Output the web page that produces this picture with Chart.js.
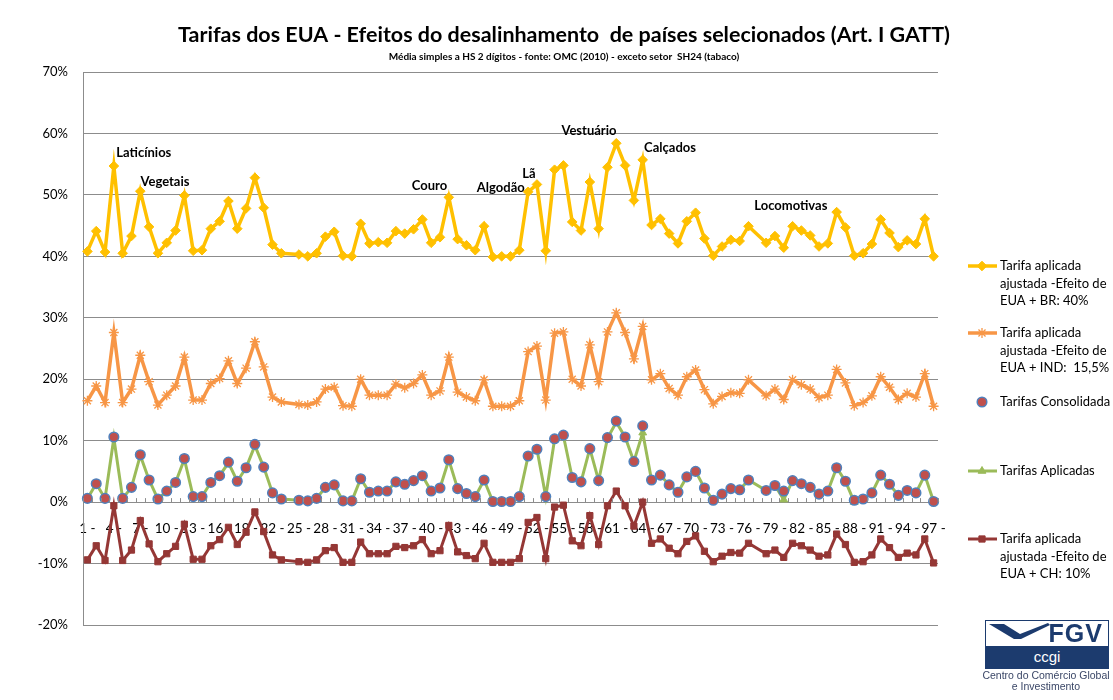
<!DOCTYPE html>
<html lang="pt-BR">
<head>
<meta charset="utf-8">
<title>Tarifas dos EUA - Efeitos do desalinhamento</title>
<script src="https://cdn.jsdelivr.net/npm/chart.js@4.4.1/dist/chart.umd.min.js"></script>
<style>
  html, body { margin: 0; padding: 0; background: #fff; }
  #wrap { position: relative; width: 1113px; height: 700px; overflow: hidden; }
  #chart { position: absolute; left: 0; top: 0; }
  #logo { position: absolute; left: 985px; top: 620px; width: 122px; height: 47px; border: 1px solid #1c3b6e; background: #fff; }
  #logo .topo { position: relative; height: 25px; }
  #logo .topo span { position: absolute; right: 5px; top: -2px; font: bold 25px "Liberation Sans", Arial, sans-serif; color: #1c3b6e; letter-spacing: 1px; }
  #logo .faixa { height: 22px; background: #1c3b6e; color: #fff; text-align: center; font: 15px "Liberation Sans", Arial, sans-serif; line-height: 21px; }
  #logoTxt { position: absolute; left: 975px; top: 670px; width: 142px; text-align: center; font: 10.5px "Liberation Sans", Arial, sans-serif; line-height: 10.5px; color: #3b4767; }
</style>
</head>
<body>
<div id="wrap">
  <canvas id="chart" width="1113" height="700"></canvas>
  <div id="logo">
    <div class="topo">
      <svg width="70" height="25" style="position:absolute;left:0;top:0">
        <polygon points="3,3 18,3 34,13 62,2 64,4 35,18 28,18" fill="#1c3b6e"/>
      </svg>
      <span>FGV</span>
    </div>
    <div class="faixa">ccgi</div>
  </div>
  <div id="logoTxt">Centro do Comércio Global<br>e Investimento</div>
</div>
<script>
// capitulos SH 2 digitos (24 = tabaco excluido, 77 inexistente)
const capitulos = [1, 2, 3, 4, 5, 6, 7, 8, 9, 10, 11, 12, 13, 14, 15, 16, 17, 18, 19, 20,
  21, 22, 23, 24, 25, 26, 27, 28, 29, 30, 31, 32, 33, 34, 35, 36, 37, 38, 39, 40,
  41, 42, 43, 44, 45, 46, 47, 48, 49, 50, 51, 52, 53, 54, 55, 56, 57, 58, 59, 60,
  61, 62, 63, 64, 65, 66, 67, 68, 69, 70, 71, 72, 73, 74, 75, 76, 77, 78, 79, 80,
  81, 82, 83, 84, 85, 86, 87, 88, 89, 90, 91, 92, 93, 94, 95, 96, 97];

const tarifaBR = [40.8, 44.1, 40.7, 54.7, 40.5, 43.3, 50.6, 44.8, 40.5, 42.2,
  44.2, 49.9, 40.9, 41.0, 44.5, 45.7, 49.0, 44.5, 47.8, 52.8,
  47.9, 41.9, 40.5, null, 40.3, 40.0, 40.5, 43.2, 44.0, 40.1,
  40.0, 45.3, 42.1, 42.3, 42.2, 44.1, 43.7, 44.4, 46.0, 42.2,
  43.1, 49.6, 42.8, 41.8, 41.0, 44.9, 39.9, 40.0, 40.0, 41.0,
  50.5, 51.7, 40.9, 54.1, 54.8, 45.6, 44.2, 52.1, 44.5, 54.5,
  58.4, 54.8, 49.1, 55.7, 45.1, 46.1, 43.7, 42.1, 45.7, 47.1,
  42.9, 40.1, 41.6, 42.7, 42.5, 44.9, null, 42.2, 43.3, 41.4,
  44.9, 44.2, 43.4, 41.6, 42.1, 47.2, 44.7, 40.1, 40.5, 42.0,
  46.0, 43.8, 41.5, 42.6, 42.0, 46.1, 40.0];

const tarifaIND = [16.5, 18.9, 16.2, 27.6, 16.2, 18.4, 23.9, 19.6, 15.8, 17.4,
  18.9, 23.6, 16.6, 16.6, 19.3, 20.1, 23.0, 19.3, 21.8, 26.1,
  22.0, 17.1, 16.3, null, 15.9, 15.8, 16.3, 18.4, 18.7, 15.7,
  15.6, 20.0, 17.4, 17.4, 17.4, 19.2, 18.6, 19.3, 20.7, 17.4,
  18.1, 23.6, 17.9, 17.1, 16.5, 19.9, 15.6, 15.6, 15.6, 16.5,
  24.5, 25.4, 16.6, 27.5, 27.7, 20.0, 18.9, 25.6, 19.6, 27.7,
  30.8, 27.6, 23.3, 28.6, 19.9, 20.9, 18.5, 17.4, 20.4, 21.5,
  18.3, 16.0, 17.2, 17.8, 17.7, 19.9, null, 17.3, 18.4, 16.7,
  19.9, 19.1, 18.4, 17.0, 17.4, 21.6, 19.4, 15.7, 16.2, 17.3,
  20.4, 18.7, 16.7, 17.7, 17.1, 20.9, 15.6];

const consolidadas = [0.6, 3.0, 0.6, 10.6, 0.6, 2.4, 7.7, 3.6, 0.5, 1.8,
  3.2, 7.1, 0.9, 0.9, 3.2, 4.3, 6.5, 3.4, 5.6, 9.4,
  5.7, 1.5, 0.5, null, 0.3, 0.2, 0.6, 2.4, 2.8, 0.2,
  0.2, 3.8, 1.6, 1.8, 1.8, 3.3, 2.9, 3.5, 4.3, 1.8,
  2.3, 6.9, 2.2, 1.4, 0.9, 3.6, 0.1, 0.1, 0.1, 0.9,
  7.5, 8.6, 0.9, 10.3, 10.9, 4.0, 3.3, 8.7, 3.5, 10.5,
  13.2, 10.6, 6.6, 12.4, 3.6, 4.4, 2.8, 1.6, 4.1, 5.0,
  2.3, 0.3, 1.3, 2.2, 2.0, 3.6, null, 1.9, 2.7, 1.8,
  3.5, 3.0, 2.4, 1.3, 1.8, 5.6, 3.4, 0.3, 0.5, 1.5,
  4.4, 2.9, 1.1, 1.9, 1.5, 4.4, 0.1];

const aplicadas = [0.6, 3.0, 0.6, 10.4, 0.6, 2.4, 7.6, 3.6, 0.5, 1.8,
  3.2, 7.0, 0.9, 0.9, 3.2, 4.3, 6.4, 3.4, 5.6, 9.2,
  5.7, 1.5, 0.5, null, 0.3, 0.2, 0.6, 2.4, 2.8, 0.2,
  0.2, 3.8, 1.6, 1.8, 1.8, 3.3, 2.9, 3.5, 4.3, 1.8,
  2.3, 6.9, 2.2, 1.4, 0.9, 3.6, 0.1, 0.1, 0.1, 0.9,
  7.5, 8.6, 0.9, 10.2, 10.8, 4.0, 3.3, 8.7, 3.5, 10.4,
  13.0, 10.6, 6.6, 11.3, 3.6, 4.4, 2.8, 1.6, 4.1, 5.0,
  2.3, 0.3, 1.3, 2.2, 2.0, 3.6, null, 1.9, 2.7, 0.4,
  3.5, 3.0, 2.4, 1.3, 1.8, 5.6, 3.4, 0.0, 0.5, 1.5,
  4.4, 2.9, 1.1, 1.9, 1.5, 4.4, 0.1];

const tarifaCH = [-9.4, -7.1, -9.5, -0.6, -9.5, -7.8, -3.0, -6.8, -9.7, -8.4,
  -7.2, -3.6, -9.3, -9.3, -7.1, -6.1, -4.1, -6.9, -4.9, -1.6,
  -4.8, -8.6, -9.4, null, -9.7, -9.8, -9.4, -7.9, -7.4, -9.8,
  -9.8, -6.5, -8.4, -8.4, -8.4, -7.2, -7.4, -7.1, -6.1, -8.4,
  -7.9, -3.8, -8.1, -8.7, -9.2, -6.7, -9.8, -9.8, -9.8, -9.2,
  -3.3, -2.5, -9.2, -0.8, -0.5, -6.3, -7.1, -2.2, -6.9, -0.6,
  1.8, -0.6, -3.9, 0.0, -6.7, -6.0, -7.5, -8.4, -6.4, -5.5,
  -8.0, -9.7, -8.8, -8.2, -8.3, -6.7, null, -8.4, -7.8, -9.0,
  -6.7, -7.1, -7.8, -8.8, -8.6, -5.2, -6.9, -9.8, -9.7, -8.6,
  -6.0, -7.4, -9.0, -8.3, -8.6, -6.0, -9.9];

// rotulos de destaque: texto, posicao em indice de categoria e valor (%)
const destaques = [
  ['Laticínios', 6.4, 56.9],
  ['Vegetais', 8.8, 52.2],
  ['Couro', 38.8, 51.5],
  ['Algodão', 46.9, 51.2],
  ['Lã', 50.1, 53.5],
  ['Vestuário', 56.9, 60.5],
  ['Calçados', 66.1, 57.7],
  ['Locomotivas', 79.8, 48.2]
];

const titulo = 'Tarifas dos EUA - Efeitos do desalinhamento  de países selecionados (Art. I GATT)';
const subtitulo = 'Média simples a HS 2 dígitos - fonte: OMC (2010) - exceto setor  SH24 (tabaco)';

const rotulosX = capitulos.map((c) => `${c} -`);
const FONTE = 'Lato, "Open Sans", sans-serif';
const CINZA = '#8c8c8c';

Chart.defaults.font.family = FONTE;
Chart.defaults.color = '#000';

function desenhaMarca(ctx, estilo, x, y, r, fundo, borda, lw) {
  ctx.save();
  ctx.fillStyle = fundo;
  ctx.strokeStyle = borda;
  ctx.lineWidth = lw;
  ctx.beginPath();
  if (estilo === 'rectRot') {
    ctx.moveTo(x, y - r); ctx.lineTo(x + r, y); ctx.lineTo(x, y + r); ctx.lineTo(x - r, y);
    ctx.closePath(); ctx.fill(); ctx.stroke();
  } else if (estilo === 'star') {
    const d = r * Math.SQRT1_2;
    ctx.moveTo(x - r, y); ctx.lineTo(x + r, y);
    ctx.moveTo(x, y - r); ctx.lineTo(x, y + r);
    ctx.moveTo(x - d, y - d); ctx.lineTo(x + d, y + d);
    ctx.moveTo(x - d, y + d); ctx.lineTo(x + d, y - d);
    ctx.stroke();
  } else if (estilo === 'circle') {
    ctx.arc(x, y, r, 0, Math.PI * 2); ctx.fill(); ctx.stroke();
  } else if (estilo === 'triangle') {
    ctx.moveTo(x, y - r); ctx.lineTo(x + r * 0.87, y + r * 0.5); ctx.lineTo(x - r * 0.87, y + r * 0.5);
    ctx.closePath(); ctx.fill(); ctx.stroke();
  } else {
    const s = r * Math.SQRT1_2;
    ctx.rect(x - s, y - s, 2 * s, 2 * s); ctx.fill(); ctx.stroke();
  }
  ctx.restore();
}

function quebraTexto(ctx, texto, largura) {
  const palavras = texto.split(' ');
  const linhas = [];
  let atual = '';
  palavras.forEach((p) => {
    const teste = atual ? atual + ' ' + p : p;
    if (atual && ctx.measureText(teste).width > largura) {
      linhas.push(atual);
      atual = p;
    } else {
      atual = teste;
    }
  });
  if (atual) linhas.push(atual);
  return linhas;
}

const pluginTextos = {
  id: 'textos',
  afterDraw(chart) {
    const ctx = chart.ctx;
    const xs = chart.scales.x;
    const ys = chart.scales.y;

    // marcas de escala no eixo zero
    const y0 = ys.getPixelForValue(0);
    ctx.save();
    ctx.strokeStyle = CINZA;
    ctx.lineWidth = 1;
    for (let i = 0; i <= capitulos.length; i++) {
      const x = Math.round(xs.getPixelForValue(i - 0.5)) + 0.5;
      ctx.beginPath();
      ctx.moveTo(x, y0 - 4);
      ctx.lineTo(x, y0);
      ctx.stroke();
    }
    ctx.restore();

    // titulo e subtitulo
    ctx.save();
    ctx.fillStyle = '#000';
    ctx.textAlign = 'center';
    ctx.textBaseline = 'middle';
    ctx.font = `bold 21.5px ${FONTE}`;
    ctx.fillText(titulo, 564, 35, 772);
    ctx.font = `bold 10px ${FONTE}`;
    ctx.fillText(subtitulo, 564, 57, 386);

    // rotulos de destaque
    ctx.font = `bold 13px ${FONTE}`;
    destaques.forEach(([texto, cat, valor]) => {
      ctx.fillText(texto, xs.getPixelForValue(cat), ys.getPixelForValue(valor));
    });
    ctx.restore();

    // legenda
    const posLegenda = [266, 333, 402, 471, 539];
    ctx.save();
    ctx.font = `13px ${FONTE}`;
    ctx.textBaseline = 'middle';
    ctx.textAlign = 'left';
    chart.data.datasets.forEach((ds, i) => {
      const y = posLegenda[i];
      if (ds.showLine !== false) {
        ctx.strokeStyle = ds.borderColor;
        ctx.lineWidth = ds.borderWidth;
        ctx.beginPath();
        ctx.moveTo(968, y);
        ctx.lineTo(997, y);
        ctx.stroke();
      }
      desenhaMarca(ctx, ds.pointStyle, 982, y, ds.pointRadius,
        ds.pointBackgroundColor, ds.pointBorderColor, ds.pointBorderWidth);
      ctx.fillStyle = '#000';
      quebraTexto(ctx, ds.label, 115).forEach((linha, k) => {
        ctx.fillText(linha, 1000, y + k * 17.6, 111);
      });
    });
    ctx.restore();
  }
};

new Chart(document.getElementById('chart'), {
  type: 'line',
  data: {
    labels: rotulosX,
    datasets: [
      {
        label: 'Tarifa aplicada ajustada -Efeito de EUA + BR: 40%',
        data: tarifaBR,
        borderColor: '#FFC000',
        borderWidth: 3.5,
        pointStyle: 'rectRot',
        pointRadius: 4.8,
        pointBackgroundColor: '#FFC000',
        pointBorderColor: '#FFC000',
        pointBorderWidth: 1
      },
      {
        label: 'Tarifa aplicada ajustada -Efeito de EUA + IND:  15,5%',
        data: tarifaIND,
        borderColor: '#F79646',
        borderWidth: 3.5,
        pointStyle: 'star',
        pointRadius: 5,
        pointBackgroundColor: '#F79646',
        pointBorderColor: '#F79646',
        pointBorderWidth: 1.3
      },
      {
        label: 'Tarifas Consolidada',
        data: consolidadas,
        showLine: false,
        pointStyle: 'circle',
        pointRadius: 4.8,
        pointBackgroundColor: '#C0504D',
        pointBorderColor: '#4F81BD',
        pointBorderWidth: 1.5
      },
      {
        label: 'Tarifas Aplicadas',
        data: aplicadas,
        borderColor: '#9BBB59',
        borderWidth: 3,
        pointStyle: 'triangle',
        pointRadius: 4.5,
        pointBackgroundColor: '#9BBB59',
        pointBorderColor: '#9BBB59',
        pointBorderWidth: 1
      },
      {
        label: 'Tarifa aplicada ajustada -Efeito de EUA + CH: 10%',
        data: tarifaCH,
        borderColor: '#953735',
        borderWidth: 3,
        pointStyle: 'rect',
        pointRadius: 4.4,
        pointBackgroundColor: '#953735',
        pointBorderColor: '#953735',
        pointBorderWidth: 1
      }
    ]
  },
  options: {
    responsive: false,
    animation: false,
    spanGaps: true,
    elements: { line: { tension: 0 } },
    layout: { padding: { top: 72, right: 175, bottom: 75, left: 0 } },
    plugins: {
      legend: { display: false },
      title: { display: false },
      tooltip: { enabled: false }
    },
    scales: {
      x: {
        position: { y: 0 },
        offset: true,
        grid: { display: false },
        border: { display: false },
        ticks: {
          autoSkip: false,
          maxRotation: 0,
          minRotation: 0,
          padding: 10,
          font: { size: 13.5 },
          callback(value, index) {
            return index % 3 === 0 ? this.getLabelForValue(value) : '';
          }
        }
      },
      y: {
        min: -20,
        max: 70,
        grid: { color: CINZA, drawTicks: false },
        border: { color: CINZA },
        ticks: {
          stepSize: 10,
          padding: 15,
          font: { size: 13 },
          callback: (v) => v + '%'
        },
        afterFit(scale) {
          scale.width = 83;
        }
      }
    }
  },
  plugins: [pluginTextos]
});
</script>
</body>
</html>
